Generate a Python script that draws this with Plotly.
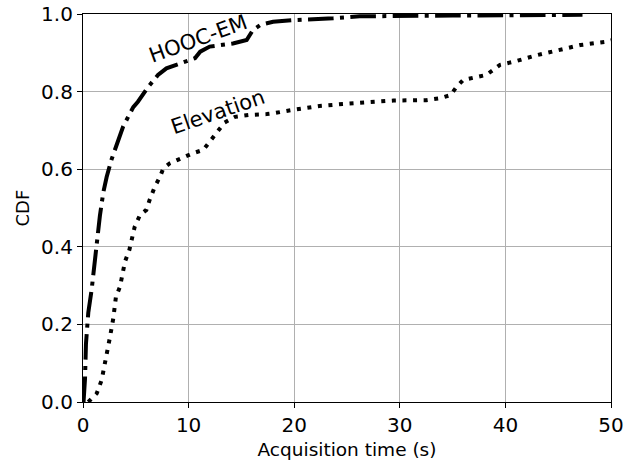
import plotly.graph_objects as go

hooc_x = [0.05, 0.19, 0.28, 0.5, 0.82, 1.14, 1.45, 1.6, 1.92, 2.24, 2.7, 3.0, 3.8, 4.76, 5.2, 6.2, 7.1,
          7.9, 9.8, 10.6, 11.1, 12.0, 14.2, 15.5, 16.1, 16.8, 18.0, 19.9, 23.7, 26.2, 35.0, 47.3]
hooc_y = [0.0, 0.06, 0.15, 0.23, 0.29, 0.37, 0.435, 0.48, 0.54, 0.58, 0.625, 0.65, 0.71, 0.76, 0.774, 0.813, 0.843,
          0.86, 0.88, 0.886, 0.903, 0.916, 0.924, 0.933, 0.959, 0.972, 0.98, 0.984, 0.989, 0.994, 0.996, 0.998]

elev_x = [0.5, 0.82, 1.3, 1.77, 2.24, 2.56, 2.87, 3.12, 3.5, 3.66, 3.98, 4.39, 4.6, 4.9, 5.4, 6.0, 6.3,
          6.8, 7.3, 7.6, 8.2, 9.2, 10.4, 11.4, 12.5, 13.4, 14.4, 15.8, 17.4, 18.0, 19.9, 22.4, 24.6,
          29.4, 32.5, 33.8, 34.8, 35.4, 36.0, 38.2, 39.5, 40.8, 43.0, 45.2, 47.1, 49.4, 50.5]
elev_y = [0.0, 0.01, 0.022, 0.057, 0.117, 0.168, 0.216, 0.271, 0.297, 0.323, 0.362, 0.392, 0.418, 0.452,
          0.482, 0.495, 0.52, 0.555, 0.581, 0.602, 0.615, 0.628, 0.641, 0.65, 0.69, 0.72, 0.735, 0.74,
          0.742, 0.744, 0.753, 0.763, 0.768, 0.777, 0.778, 0.783, 0.791, 0.813, 0.83, 0.843, 0.869,
          0.877, 0.894, 0.907, 0.92, 0.928, 0.935]

x_ticks = [0, 10, 20, 30, 40, 50]
y_ticks = [0.0, 0.2, 0.4, 0.6, 0.8, 1.0]

labels = ["HOOC-EM", "Elevation"]
label_pos = [(10.85, 0.935), (12.74, 0.748)]
label_angles = [-20, -19]

FONT = "DejaVu Sans"

fig = go.Figure()
fig.add_trace(go.Scatter(x=hooc_x, y=hooc_y, mode="lines", name=labels[0],
                         line=dict(color="black", width=4, dash="25.6px,6.4px,4px,6.4px")))
fig.add_trace(go.Scatter(x=elev_x, y=elev_y, mode="lines", name=labels[1],
                         line=dict(color="black", width=4, dash="4px,6.6px")))

for lab, (ax, ay), ang in zip(labels, label_pos, label_angles):
    fig.add_annotation(x=ax, y=ay, text=lab, showarrow=False, textangle=ang,
                       font=dict(family=FONT, size=21, color="black"),
                       xanchor="center", yanchor="middle")

# y-axis title placed as a rotated annotation
fig.add_annotation(x=-0.1146, y=0.5, xref="paper", yref="paper", text="CDF", showarrow=False,
                   textangle=-90, font=dict(family=FONT, size=18, color="black"),
                   xanchor="center", yanchor="middle")

axis_common = dict(
    showgrid=True, gridcolor="#b0b0b0", gridwidth=1,
    showline=True, linecolor="black", linewidth=1.2, mirror=True,
    ticks="outside", ticklen=5, tickwidth=1.1, tickcolor="black",
    tickfont=dict(family=FONT, size=20, color="black"),
    zeroline=False, automargin=False,
)

fig.update_xaxes(range=[0, 50], tickvals=x_ticks, ticktext=[str(v) for v in x_ticks],
                 title=dict(text="Acquisition time (s)", font=dict(family=FONT, size=18.5, color="black")),
                 **axis_common)
fig.update_yaxes(range=[0, 1.0], tickvals=y_ticks, ticktext=[f"{v:.1f}" for v in y_ticks],
                 **axis_common)

fig.update_layout(
    width=632, height=460,
    margin=dict(l=83, r=21, t=14, b=58),
    plot_bgcolor="white", paper_bgcolor="white",
    showlegend=False,
    font=dict(family=FONT, color="black"),
)

fig.write_html("out.html")
